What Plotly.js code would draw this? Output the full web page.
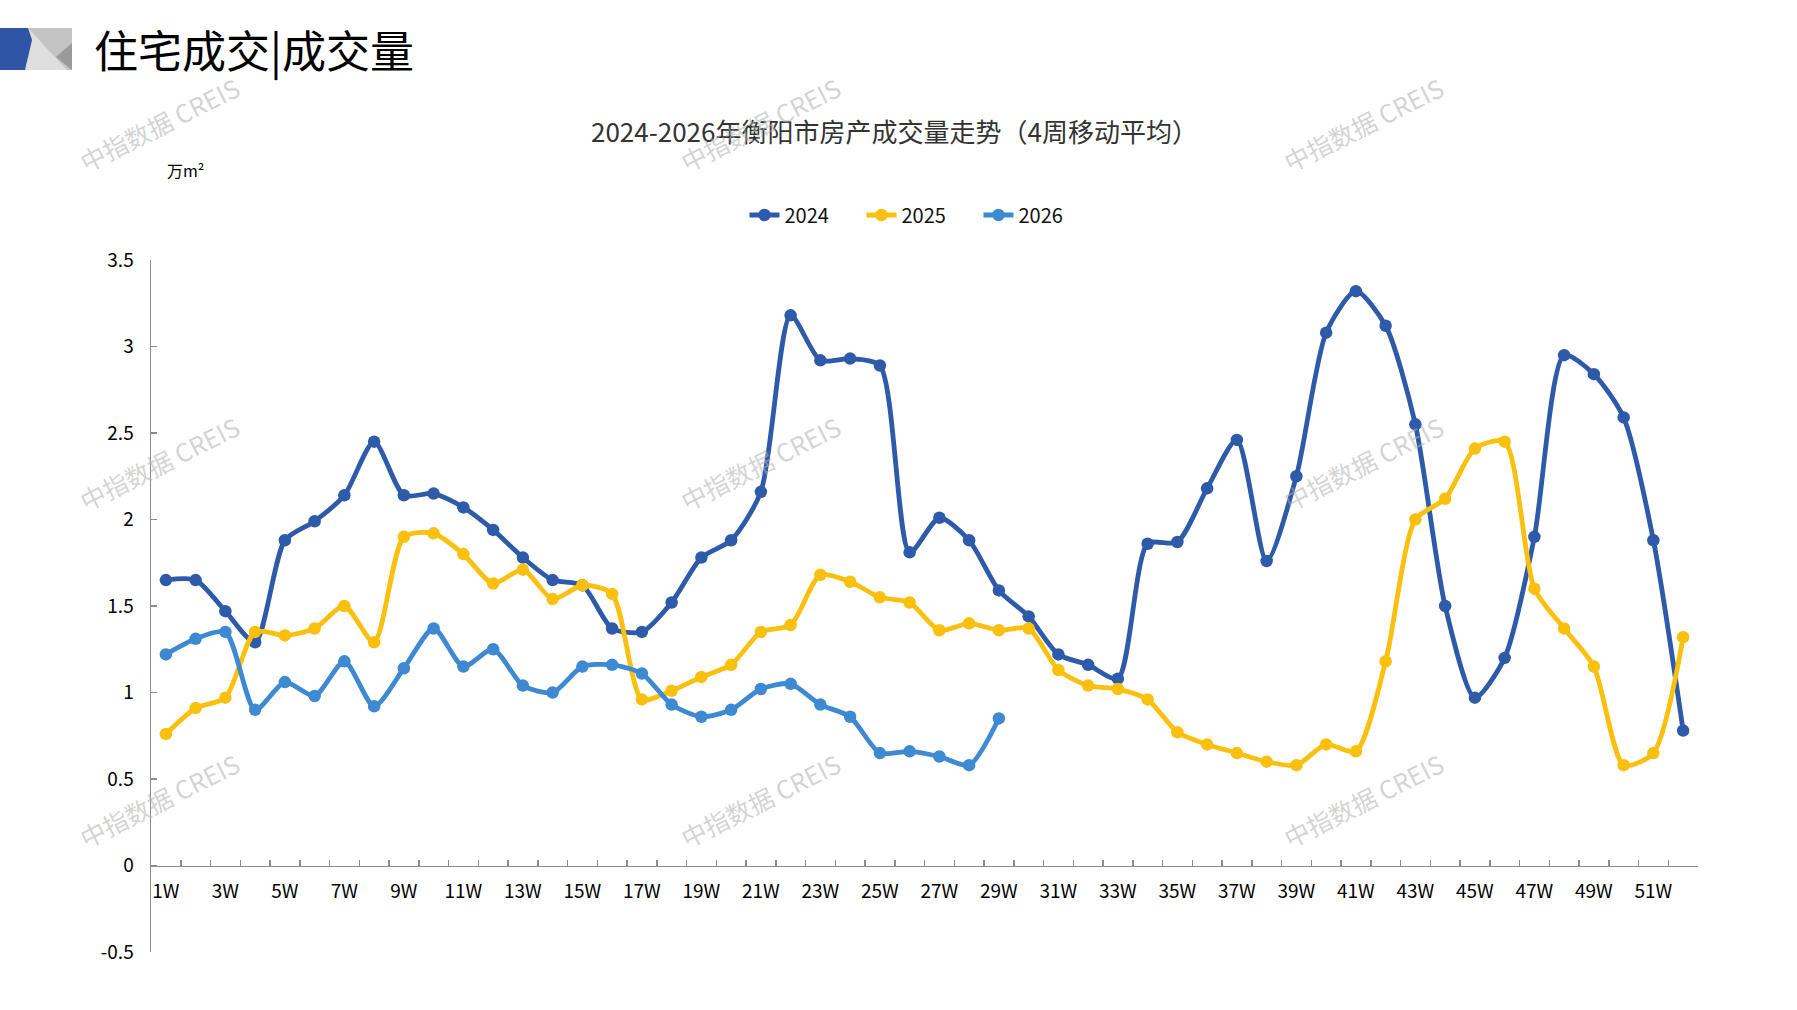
<!DOCTYPE html>
<html>
<head>
<meta charset="utf-8">
<script src="https://cdn.plot.ly/plotly-3.0.1.min.js"></script>
<style>
  html, body { margin: 0; padding: 0; background: #fff; }
  #chart { width: 1797px; height: 1010px; }
</style>
</head>
<body>
<div id="chart"></div>
<script>
const weeks = ['1W','2W','3W','4W','5W','6W','7W','8W','9W','10W','11W','12W','13W',
    '14W','15W','16W','17W','18W','19W','20W','21W','22W','23W','24W','25W','26W',
    '27W','28W','29W','30W','31W','32W','33W','34W','35W','36W','37W','38W','39W',
    '40W','41W','42W','43W','44W','45W','46W','47W','48W','49W','50W','51W','52W'];

const y2024 = [1.65, 1.65, 1.47, 1.29, 1.88, 1.99, 2.14, 2.45, 2.14, 2.15,
    2.07, 1.94, 1.78, 1.65, 1.62, 1.37, 1.35, 1.52, 1.78, 1.88,
    2.16, 3.18, 2.92, 2.93, 2.89, 1.81, 2.01, 1.88, 1.59, 1.44,
    1.22, 1.16, 1.08, 1.86, 1.87, 2.18, 2.46, 1.76, 2.25, 3.08,
    3.32, 3.12, 2.55, 1.50, 0.97, 1.20, 1.90, 2.95, 2.84, 2.59,
    1.88, 0.78];

const y2025 = [0.76, 0.91, 0.97, 1.35, 1.33, 1.37, 1.50, 1.29, 1.90, 1.92,
    1.80, 1.63, 1.71, 1.54, 1.62, 1.57, 0.96, 1.01, 1.09, 1.16,
    1.35, 1.39, 1.68, 1.64, 1.55, 1.52, 1.36, 1.40, 1.36, 1.37,
    1.13, 1.04, 1.02, 0.96, 0.77, 0.70, 0.65, 0.60, 0.58, 0.70,
    0.66, 1.18, 2.00, 2.12, 2.41, 2.45, 1.60, 1.37, 1.15, 0.58,
    0.65, 1.32];

const y2026 = [1.22, 1.31, 1.35, 0.90, 1.06, 0.98, 1.18, 0.92, 1.14, 1.37,
    1.15, 1.25, 1.04, 1.00, 1.15, 1.16, 1.11, 0.93, 0.86, 0.90,
    1.02, 1.05, 0.93, 0.86, 0.65, 0.66, 0.63, 0.58, 0.85];

const yTicks = [-0.5, 0, 0.5, 1, 1.5, 2, 2.5, 3, 3.5];
const yTickText = ['-0.5', '0', '0.5', '1', '1.5', '2', '2.5', '3', '3.5'];

const seriesNames = ['2024', '2025', '2026'];
const seriesColors = ['#2d5ba9', '#fbbf0e', '#3d89d2'];

// page pixels -> paper coords (plot area is 151..1698 x 260..952)
const plotL = 151, plotW = 1547, plotB = 952, plotH = 692;
const px = x => (x - plotL) / plotW;
const py = y => (plotB - y) / plotH;

const makeTrace = (name, values, color) => ({
    x: weeks.slice(0, values.length),
    y: values,
    name: name,
    type: 'scatter',
    mode: 'lines+markers',
    line: { color: color, width: 4.8, shape: 'spline', smoothing: 0.7 },
    marker: { color: color, size: 12.5 },
});

const traces = [
    makeTrace(seriesNames[0], y2024, seriesColors[0]),
    makeTrace(seriesNames[1], y2025, seriesColors[1]),
    makeTrace(seriesNames[2], y2026, seriesColors[2]),
];

const tickFont = { family: 'Noto Sans CJK SC, sans-serif', size: 19, color: '#000' };

// watermark "中指数据 CREIS"
const wmSpots = [[159, 124], [760, 124], [1363, 124], [159, 463], [760, 463], [1363, 463], [159, 800], [760, 800], [1363, 800]];
const watermarks = wmSpots.map(p => ({
    text: '中指数据 CREIS',
    xref: 'paper', yref: 'paper',
    x: px(p[0]), y: py(p[1]),
    xanchor: 'center', yanchor: 'middle',
    showarrow: false, textangle: -26.6,
    font: { family: 'Noto Sans CJK SC, sans-serif', size: 25, color: 'rgba(175,175,175,0.55)' },
}));

const poly = pts => 'M ' + pts.map(p => px(p[0]) + ',' + py(p[1])).join(' L ') + ' Z';

const logoShapes = [
    { type: 'path', path: poly([[28, 28], [72, 28], [72, 70], [28, 70]]), fillcolor: '#c3c3c3', line: { width: 0 } },
    { type: 'path', path: poly([[28, 28], [67, 70], [25, 70], [32, 40]]), fillcolor: '#dedede', line: { width: 0 } },
    { type: 'path', path: poly([[72, 43], [72, 70], [56, 57]]), fillcolor: '#9a9a9a', line: { width: 0 } },
    { type: 'path', path: poly([[0, 28], [28, 28], [32, 40], [25, 70], [0, 70]]), fillcolor: '#2f55a6', line: { width: 0 } },
].map(s => Object.assign({ xref: 'paper', yref: 'paper', layer: 'above' }, s));

const layout = {
    width: 1797,
    height: 1010,
    paper_bgcolor: '#fff',
    plot_bgcolor: '#fff',
    margin: { l: plotL, r: 1797 - plotL - plotW, t: plotB - plotH, b: 1010 - plotB, pad: 0 },
    font: { family: 'Noto Sans CJK SC, sans-serif', color: '#000' },
    showlegend: true,
    legend: {
        orientation: 'h',
        x: px(920), xanchor: 'center',
        y: py(215), yanchor: 'middle',
        font: { family: 'Noto Sans CJK SC, sans-serif', size: 20, color: '#111' },
        entrywidth: 72,
        entrywidthmode: 'pixels',
        traceorder: 'normal',
    },
    xaxis: {
        type: 'category',
        range: [-0.5, 51.5],
        anchor: 'free',
        position: 0.125,
        tickmode: 'array',
        tickvals: weeks,
        ticktext: weeks.map((w, i) => (i % 2 === 0 ? w : '')),
        tickson: 'boundaries',
        tickangle: 0,
        ticks: 'inside',
        ticklen: 6,
        tickwidth: 1.5,
        tickcolor: '#8c8c8c',
        showline: true,
        linecolor: '#8c8c8c',
        linewidth: 1.5,
        showgrid: false,
        zeroline: false,
        tickfont: tickFont,
        ticklabelstandoff: 8,
        fixedrange: true,
    },
    yaxis: {
        range: [-0.5, 3.5],
        tickmode: 'array',
        tickvals: yTicks,
        ticktext: yTickText,
        ticks: 'inside',
        ticklen: 6,
        tickwidth: 1.5,
        tickcolor: '#8c8c8c',
        showline: true,
        linecolor: '#8c8c8c',
        linewidth: 1.5,
        showgrid: false,
        zeroline: false,
        tickfont: tickFont,
        ticklabelstandoff: 12,
        fixedrange: true,
    },
    shapes: logoShapes,
    annotations: [
        {
            text: '住宅成交|成交量',
            xref: 'paper', yref: 'paper',
            x: px(92), y: py(49), xanchor: 'left', yanchor: 'middle',
            showarrow: false,
            font: { family: 'Noto Sans CJK SC, sans-serif', size: 44, color: '#000' },
        },
        {
            text: '2024-2026年衡阳市房产成交量走势（4周移动平均）',
            xref: 'paper', yref: 'paper',
            x: px(894), y: py(131), xanchor: 'center', yanchor: 'middle',
            showarrow: false,
            font: { family: 'Noto Sans CJK SC, sans-serif', size: 26, color: '#333' },
        },
        {
            text: '万m²',
            xref: 'paper', yref: 'paper',
            x: px(185), y: py(170), xanchor: 'center', yanchor: 'middle',
            showarrow: false,
            font: { family: 'Noto Sans CJK SC, sans-serif', size: 16, color: '#000' },
        },
    ].concat(watermarks),
};

Plotly.newPlot('chart', traces, layout, { displayModeBar: false, staticPlot: true });
</script>
</body>
</html>
